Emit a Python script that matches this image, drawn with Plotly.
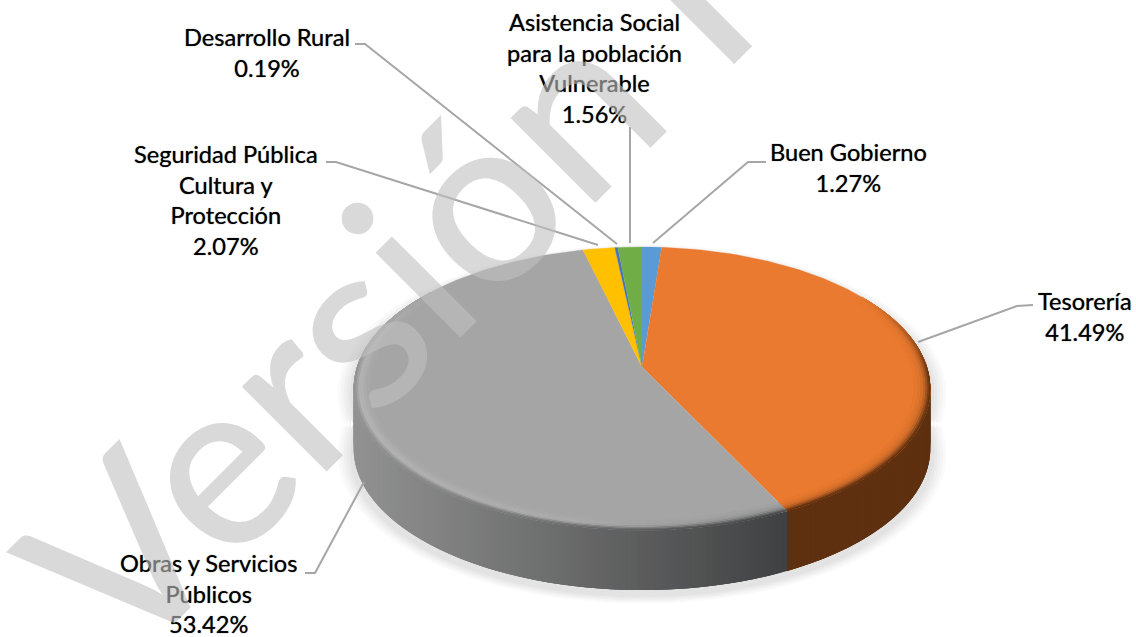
import numpy as np
import plotly.graph_objects as go

# ---------- data ----------
categories = ["Buen Gobierno", "Tesorería", "Obras y Servicios<br>Públicos",
              "Seguridad Pública<br>Cultura y<br>Protección", "Desarrollo Rural",
              "Asistencia Social<br>para la población<br>Vulnerable"]
values = [1.27, 41.49, 53.42, 2.07, 0.19, 1.56]
colors = ["#5b9bd5", "#e97a2f", "#a5a5a5", "#ffc000", "#4472c4", "#70ad47"]
watermark = "Versión I"

# ---------- layout constants (pixel-like axis units) ----------
W, H = 1136, 637
CX, CY = 642, 367
R, S, K, DEPTH = 285.0, 138.3, 0.152, 60.0
label_pos = [(848, 167), (1085, 316), (208, 593), (226, 200), (267, 52), (594, 68)]
leaders = [
    ([766, 748, 653], [162, 162, 243]),
    ([1033, 1017, 918], [305, 306, 342]),
    ([305, 315, 364], [573, 573, 482]),
    ([326, 336, 598], [162, 162, 245]),
    ([355, 365, 617], [44, 44, 244]),
    ([630, 630], [127, 243]),
]


def project(theta, r=1.0):
    u, v = r * np.sin(theta), r * np.cos(theta)
    w = 1 + K * v
    return CX + R * u / w, CY - S * v / w


def rgb(c):
    return np.array([int(c[i:i + 2], 16) for i in (1, 3, 5)], float)


def css(c):
    return "rgb(%d,%d,%d)" % tuple(np.clip(np.round(c), 0, 255))


def mix(a, b, t):
    return a * (1 - t) + b * t


fig = go.Figure()


def poly(xs, ys, color, lw=0.0):
    fig.add_trace(go.Scatter(x=list(xs), y=list(ys), mode="lines", fill="toself",
                             fillcolor=color, line=dict(color=color, width=lw),
                             hoverinfo="skip", showlegend=False))


shares = np.array(values) / sum(values) * 2 * np.pi
ends = np.cumsum(shares)
starts = ends - shares


def outline(offset, grow):
    t = np.linspace(0, 2 * np.pi, 180)
    x, y = project(t)
    xc, yc = x.mean(), y.mean()
    f = 1 + grow / 288
    xu = np.r_[xc + (x - xc) * f, xc + (x[::-1] - xc) * f]
    yu = np.r_[yc + (y - yc) * f + offset, yc + (y[::-1] - yc) * f + offset + DEPTH]
    return xu, yu


# soft shadow below the disc
for grow, shade in [(16, "#fafafa"), (13, "#f5f5f5"), (10, "#efefef"), (7, "#e9e9e9"), (4, "#e3e3e3")]:
    xs, ys = outline(5, grow)
    poly(xs, ys, shade)


def side_color(i, x):
    if colors[i] == "#a5a5a5":
        t = np.clip((x - 354) / (787 - 354), 0, 1)
        return mix(rgb("#929292"), rgb("#404142"), t)
    return rgb("#5e3010")


# side wall, only the near part shows
step = np.radians(1.0)
for i, (a, b) in enumerate(zip(starts, ends)):
    n = max(1, int(np.ceil((b - a) / step)))
    edges = np.linspace(a, b, n + 1)
    for t0, t1 in zip(edges[:-1], edges[1:]):
        tm = (t0 + t1) / 2
        if np.cos(tm) > 0.2:
            continue
        t2 = min(t1 + 2 * step, b)
        ts = np.linspace(t0, t2, 4)
        x, y = project(ts)
        poly(np.r_[x, x[::-1]], np.r_[y, y[::-1] + DEPTH],
             css(side_color(i, (project(t0)[0] + project(t1)[0]) / 2)))

# top face
for i, (a, b) in enumerate(zip(starts, ends)):
    t = np.linspace(a, b, max(3, int((b - a) / 0.02)))
    x, y = project(t)
    poly(np.r_[CX, x], np.r_[CY, y], colors[i], 0.3)

# soft bevel along the near rim: (inner radius, highlight share, wall share)
bands = [(0.945, 0.12, 0.03), (0.958, 0.35, 0.08), (0.968, 0.65, 0.15), (0.977, 1.0, 0.3),
         (0.985, 0.7, 0.55), (0.992, 0.35, 0.8), (0.997, 0.1, 0.95)]
for i, (a, b) in enumerate(zip(starts, ends)):
    if b - a < 0.5:
        continue
    n = int(np.ceil((b - a) / np.radians(1.5)))
    edges = np.linspace(a, b, n + 1)
    face = rgb(colors[i])
    for r0, fh, fs in bands:
        for t0, t1 in zip(edges[:-1], edges[1:]):
            tm = (t0 + t1) / 2
            w = float(np.clip((0.55 - np.cos(tm)) / 0.6, 0, 1))
            if w <= 0:
                continue
            xm = project(tm)[0]
            wall = side_color(i, xm)
            if colors[i] == "#a5a5a5":
                q = np.clip((xm - 354) / (787 - 354), 0, 1)
                light = float(np.clip((0.9 - q) / 0.4, 0, 1))
                col = mix(face, rgb("#c0c0c0"), fh * light)
            else:
                col = face
            col = mix(col, wall, fs * w)
            if colors[i] == "#a5a5a5":
                col = mix(face, col, w)
            t2 = min(t1 + np.radians(3), b)
            ts = np.linspace(t0, t2, 3)
            x0, y0 = project(ts, r0)
            x1, y1 = project(ts, 1.0)
            poly(np.r_[x0, x1[::-1]], np.r_[y0, y1[::-1]], css(col))

# leader lines
for lx, ly in leaders:
    fig.add_trace(go.Scatter(x=lx, y=ly, mode="lines", hoverinfo="skip", showlegend=False,
                             line=dict(color="#a6a6a6", width=2)))

# labels
annos = []
for name, v, (x, y) in zip(categories, values, label_pos):
    annos.append(dict(x=x, y=y, xref="x", yref="y", showarrow=False, align="center",
                      xanchor="center", yanchor="middle",
                      text=f"{name}<br>{v:.2f}%",
                      font=dict(family="Lato", size=23.6, color="#000000",
                                shadow="0 0 1px rgba(0,0,0,0.7)")))
# watermark sits over everything
annos.append(dict(x=381, y=287, xref="x", yref="y", showarrow=False, textangle=-45,
                  xanchor="center", yanchor="middle", text=watermark,
                  font=dict(family="Lato", size=236, weight=500, color="rgba(192,192,192,0.6)")))

fig.update_layout(
    width=W, height=H, margin=dict(l=0, r=0, t=0, b=0), showlegend=False,
    paper_bgcolor="white", plot_bgcolor="white", annotations=annos,
    xaxis=dict(range=[0, W], visible=False, fixedrange=True),
    yaxis=dict(range=[H, 0], visible=False, fixedrange=True),
)
fig.write_html("out.html", config={"displayModeBar": False},
               post_script="document.body.style.margin='0';")
